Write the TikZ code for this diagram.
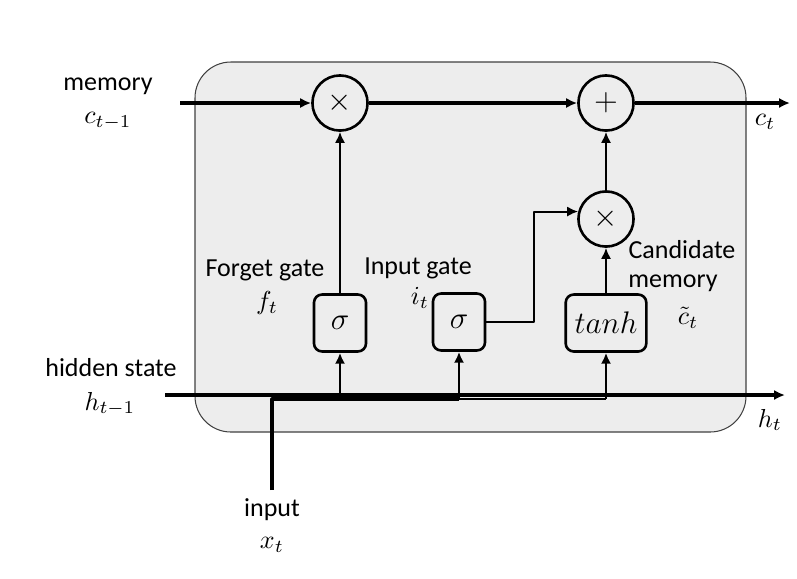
\documentclass[tikz,border=0pt]{standalone}
\usepackage{fontspec}
\setmainfont{Carlito}
\usetikzlibrary{arrows.meta}
\begin{document}
\begin{tikzpicture}[x=0.3846pt, y=-0.3846pt, font=\normalsize, line join=round,
  arr/.style={-{Latex[length=4.2pt,width=3.9pt]}, line width=0.8pt},
  op/.style={circle, draw, line width=1pt, minimum size=21.2pt, inner sep=0pt, font=\large},
  gate/.style={draw, rounded corners=3.1pt, line width=1pt, minimum height=21.9pt, inner sep=0pt, font=\large},
  lbl/.style={align=center, inner sep=0pt}]
\useasboundingbox (0,0) rectangle (797,578);
\draw[black!75, fill=black!7, line width=0.4pt, rounded corners=13.8pt] (195,62) rectangle (746,432);
\foreach \x\y\t in {180/103/cin,790/103/cout,165/395/hin,785/395/hout,272/490/xin,272/399/xc}
\coordinate (\t) at (\x,\y);
\node[op] (m1) at (340,103) {$\times$};
\node[op] (a1) at (606,103) {$+$};
\node[op] (m3) at (606,219) {$\times$};
\node[gate, minimum width=20pt] (fg) at (340,323) {$\sigma$};
\node[gate, minimum width=20pt] (ig) at (459,322) {$\sigma$};
\node[gate, minimum width=31pt] (cg) at (606,323) {$tanh$};
% memory path
\draw[arr, line width=1.2pt] (cin) -- (m1);
\draw[arr, line width=1.2pt] (m1) -- (a1);
\draw[arr, line width=1.2pt] (a1) -- (cout);
\draw[arr] (m3) -- (a1);
\draw[arr] (fg) -- (m1);
\draw[arr] (cg) -- (m3);
\draw[arr] (ig.east) -- ++(48,0) |- (m3.165);
% hidden state and input
\draw[arr, line width=1.4pt] (hin) -- (hout);
\draw[line width=1.2pt] (xin) -- (xc) -- (xc -| ig);
\draw[line width=0.8pt] (xc -| ig) -- (xc -| cg);
\foreach \g in {fg,ig,cg} \draw[arr, line width=1pt] (xc -| \g) -- (\g.south);
\foreach \x/\y/\t [count=\i] in {108/86/memory,108/121/$c_{t-1}$,111/368/hidden state,110/404/$h_{t-1}$,
  272/510/input,272/545/$x_t$,265/270/Forget gate,267/303/$f_t$,418/268/Input gate,420/298/$i_t$,
  682/250/Candidate,673/283/memory,688/318/$\tilde{c}_t$,765/122/$c_t$,770/420/$h_t$}
\node[lbl] (l\i) at (\x,\y) {\t};
\end{tikzpicture}
\end{document}
